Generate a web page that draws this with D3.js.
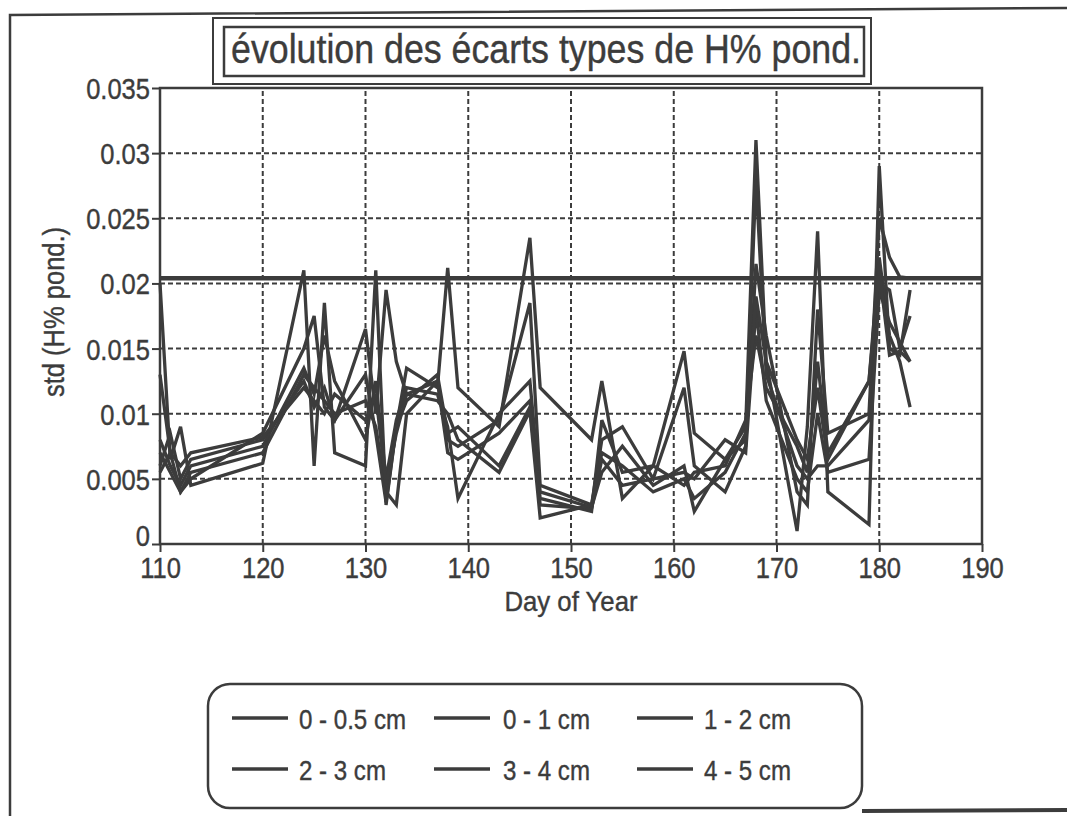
<!DOCTYPE html>
<html>
<head>
<meta charset="utf-8">
<script src="https://cdn.jsdelivr.net/npm/d3@7"></script>
<style>
  body { margin: 0; background: #fff; }
  svg { display: block; font-family: "Liberation Sans", Arial, sans-serif; }
  text { stroke: #3c3c3c; stroke-width: 0.4px; }
</style>
</head>
<body>
<div id="chart"></div>
<script>
// Datos
const dias = [110, 111, 112, 113, 120, 124, 125, 126, 127, 130, 131, 132, 133, 134, 137, 138, 139, 143, 146, 147,
              152, 153, 155, 158, 161, 162, 165, 167, 168, 169, 172, 173, 174, 175, 179, 180, 181, 182, 183];

const serie0_05 = [0.020, 0.0065, 0.009, 0.0045, 0.0062, 0.021, 0.006, 0.0185, 0.007, 0.006, 0.021, 0.003, 0.009, 0.0135,
                   0.012, 0.0212, 0.012, 0.009, 0.0235, 0.012, 0.008, 0.0125, 0.0035, 0.006, 0.0148, 0.0085, 0.0065, 0.009,
                   0.031, 0.014, 0.001, 0.009, 0.024, 0.004, 0.0015, 0.029, 0.015, 0.0145, 0.0195];
const serie0_1 = [0.013, 0.007, 0.004, 0.005, 0.0085, 0.015, 0.0175, 0.0105, 0.0095, 0.0165, 0.010, 0.0195, 0.014, 0.0115,
                  0.0125, 0.008, 0.0075, 0.0095, 0.0185, 0.0045, 0.003, 0.008, 0.009, 0.005, 0.012, 0.006, 0.004, 0.0075,
                  0.0215, 0.016, 0.004, 0.003, 0.018, 0.0085, 0.010, 0.025, 0.022, 0.0205, 0.0204];
const serie1_2 = [0.008, 0.006, 0.0045, 0.006, 0.0075, 0.0135, 0.0115, 0.016, 0.0125, 0.008, 0.0125, 0.005, 0.0095, 0.012,
                  0.0115, 0.009, 0.0035, 0.010, 0.0125, 0.004, 0.0028, 0.0055, 0.0075, 0.0045, 0.006, 0.0025, 0.0065, 0.008,
                  0.028, 0.013, 0.006, 0.005, 0.006, 0.006, 0.0095, 0.020, 0.0195, 0.015, 0.0175];
const serie2_3 = [0.007, 0.0055, 0.004, 0.0055, 0.007, 0.013, 0.012, 0.011, 0.010, 0.011, 0.009, 0.004, 0.003, 0.010,
                  0.0125, 0.007, 0.0065, 0.0085, 0.011, 0.0035, 0.0025, 0.0095, 0.0055, 0.006, 0.0045, 0.0055, 0.006, 0.0095,
                  0.016, 0.012, 0.0075, 0.0055, 0.014, 0.007, 0.0125, 0.022, 0.016, 0.014, 0.0105];
const serie3_4 = [0.006, 0.0085, 0.005, 0.0065, 0.008, 0.0125, 0.0105, 0.012, 0.0095, 0.013, 0.0085, 0.0032, 0.009, 0.011,
                  0.013, 0.0085, 0.009, 0.006, 0.0105, 0.003, 0.0027, 0.0065, 0.0045, 0.005, 0.0055, 0.005, 0.008, 0.007,
                  0.018, 0.011, 0.005, 0.004, 0.010, 0.0055, 0.0065, 0.0195, 0.017, 0.0155, 0.014];
const serie4_5 = [0.0055, 0.007, 0.006, 0.007, 0.0082, 0.012, 0.011, 0.010, 0.0115, 0.0095, 0.0115, 0.0045, 0.0085, 0.0115,
                  0.011, 0.010, 0.008, 0.0055, 0.0102, 0.002, 0.003, 0.007, 0.006, 0.004, 0.005, 0.0035, 0.0055, 0.0085,
                  0.019, 0.014, 0.008, 0.0065, 0.012, 0.0065, 0.0125, 0.021, 0.0145, 0.0148, 0.014];

// Línea horizontal gruesa del gráfico original
const lineaRefDias = [110, 190];
const lineaRefValor = 0.0204;

const etiquetas = ['0 - 0.5 cm', '0 - 1 cm', '1 - 2 cm', '2 - 3 cm', '3 - 4 cm', '4 - 5 cm'];
const series = [serie0_05, serie0_1, serie1_2, serie2_3, serie3_4, serie4_5];

const ticksX = [110, 120, 130, 140, 150, 160, 170, 180, 190];
const ticksY = [0, 0.005, 0.01, 0.015, 0.02, 0.025, 0.03, 0.035];

const titulo = 'évolution des écarts types de H% pond.';
const tituloY = 'std (H% pond.)';
const tituloX = 'Day of Year';

const tinta = '#3c3c3c';

// Función para estrechar el texto (la fuente original es condensada)
function estrechar(sel, factor) {
    sel.each(function () {
        const w = this.getComputedTextLength();
        d3.select(this)
            .attr('textLength', w * factor)
            .attr('lengthAdjust', 'spacingAndGlyphs');
    });
}

const width = 1067, height = 816;
const svg = d3.select('#chart').append('svg')
    .attr('width', width)
    .attr('height', height);

// Marco exterior escaneado
svg.append('path')
    .attr('d', 'M10,816 L10,15 L1067,8')
    .attr('fill', 'none')
    .attr('stroke', tinta)
    .attr('stroke-width', 2.5);
svg.append('line')
    .attr('x1', 862).attr('x2', 1067)
    .attr('y1', 811).attr('y2', 810)
    .attr('stroke', tinta)
    .attr('stroke-width', 4);

// Escalas
const x = d3.scaleLinear().domain([110, 190]).range([160, 982]);
const y = d3.scaleLinear().domain([0, 0.035]).range([544, 88]);

// Rejilla punteada
svg.append('g')
    .selectAll('line')
    .data(ticksX.slice(1, -1))
    .join('line')
    .attr('x1', d => x(d)).attr('x2', d => x(d))
    .attr('y1', y(0)).attr('y2', y(0.035))
    .attr('stroke', tinta)
    .attr('stroke-width', 2)
    .attr('stroke-dasharray', '5,3');
svg.append('g')
    .selectAll('line')
    .data(ticksY.slice(1, -1))
    .join('line')
    .attr('x1', x(110)).attr('x2', x(190))
    .attr('y1', d => y(d)).attr('y2', d => y(d))
    .attr('stroke', tinta)
    .attr('stroke-width', 2)
    .attr('stroke-dasharray', '5,3');

// Ejes
const ejeY = svg.append('g')
    .attr('transform', `translate(${x(110)},0)`)
    .call(d3.axisLeft(y).tickValues(ticksY).tickSize(8).tickPadding(2)
        .tickFormat(d => d === 0 ? '0' : String(+d.toFixed(3))));
const ejeX = svg.append('g')
    .attr('transform', `translate(0,${y(0)})`)
    .call(d3.axisBottom(x).tickValues(ticksX).tickSize(8).tickPadding(5).tickFormat(d3.format('d')));

[ejeY, ejeX].forEach(eje => {
    eje.select('.domain').remove();
    eje.selectAll('line').attr('stroke', tinta).attr('stroke-width', 2);
    eje.selectAll('text')
        .attr('fill', tinta)
        .style('font-size', '29px');
});
// El "0" queda un poco por encima del eje, como en el original
ejeY.selectAll('text').attr('dy', d => d === 0 ? '0.05em' : '0.36em');
ejeX.selectAll('text').attr('dy', '0.72em');
estrechar(ejeY.selectAll('text'), 0.88);
estrechar(ejeX.selectAll('text'), 0.88);

// Marco del área de trazado
svg.append('rect')
    .attr('x', x(110)).attr('y', y(0.035))
    .attr('width', x(190) - x(110))
    .attr('height', y(0) - y(0.035))
    .attr('fill', 'none')
    .attr('stroke', tinta)
    .attr('stroke-width', 2.5);

// Línea de referencia
svg.append('line')
    .attr('x1', x(lineaRefDias[0])).attr('x2', x(lineaRefDias[1]))
    .attr('y1', y(lineaRefValor)).attr('y2', y(lineaRefValor))
    .attr('stroke', tinta)
    .attr('stroke-width', 4.5);

// Series
const linea = d3.line()
    .x((d, i) => x(dias[i]))
    .y(d => y(d));

svg.append('g')
    .selectAll('path')
    .data(series)
    .join('path')
    .attr('d', linea)
    .attr('fill', 'none')
    .attr('stroke', tinta)
    .attr('stroke-width', 3.3)
    .attr('stroke-linejoin', 'miter');

// Títulos de ejes
const tY = svg.append('text')
    .attr('transform', 'translate(64,312) rotate(-90)')
    .attr('text-anchor', 'middle')
    .attr('fill', tinta)
    .style('font-size', '29px')
    .text(tituloY);
estrechar(tY, 0.88);

const tX = svg.append('text')
    .attr('x', 571).attr('y', 611)
    .attr('text-anchor', 'middle')
    .attr('fill', tinta)
    .style('font-size', '28px')
    .text(tituloX);
estrechar(tX, 0.92);

// Título con doble recuadro
svg.append('rect')
    .attr('x', 213).attr('y', 18).attr('width', 658).attr('height', 66)
    .attr('fill', '#fff').attr('stroke', tinta).attr('stroke-width', 2);
svg.append('rect')
    .attr('x', 224).attr('y', 27).attr('width', 640).attr('height', 49)
    .attr('fill', 'none').attr('stroke', tinta).attr('stroke-width', 2.5);
svg.append('text')
    .attr('x', 546).attr('y', 63)
    .attr('text-anchor', 'middle')
    .attr('fill', tinta)
    .style('font-size', '40px')
    .attr('textLength', 630)
    .attr('lengthAdjust', 'spacingAndGlyphs')
    .text(titulo);

// Leyenda
svg.append('rect')
    .attr('x', 208).attr('y', 684).attr('width', 654).attr('height', 124)
    .attr('rx', 22).attr('ry', 22)
    .attr('fill', 'none')
    .attr('stroke', tinta)
    .attr('stroke-width', 2.5);

const colLinea = [232, 434, 637];
const colTexto = [299, 503, 704];
const filaY = [718, 769];

const items = svg.append('g')
    .selectAll('g')
    .data(etiquetas)
    .join('g');
items.append('line')
    .attr('x1', (d, i) => colLinea[i % 3])
    .attr('x2', (d, i) => colLinea[i % 3] + 56)
    .attr('y1', (d, i) => filaY[Math.floor(i / 3)])
    .attr('y2', (d, i) => filaY[Math.floor(i / 3)])
    .attr('stroke', tinta)
    .attr('stroke-width', 3.5);
const textosLeyenda = items.append('text')
    .attr('x', (d, i) => colTexto[i % 3])
    .attr('y', (d, i) => filaY[Math.floor(i / 3)] + 11)
    .attr('fill', tinta)
    .style('font-size', '28px')
    .text(d => d);
estrechar(textosLeyenda, 0.86);
</script>
</body>
</html>
